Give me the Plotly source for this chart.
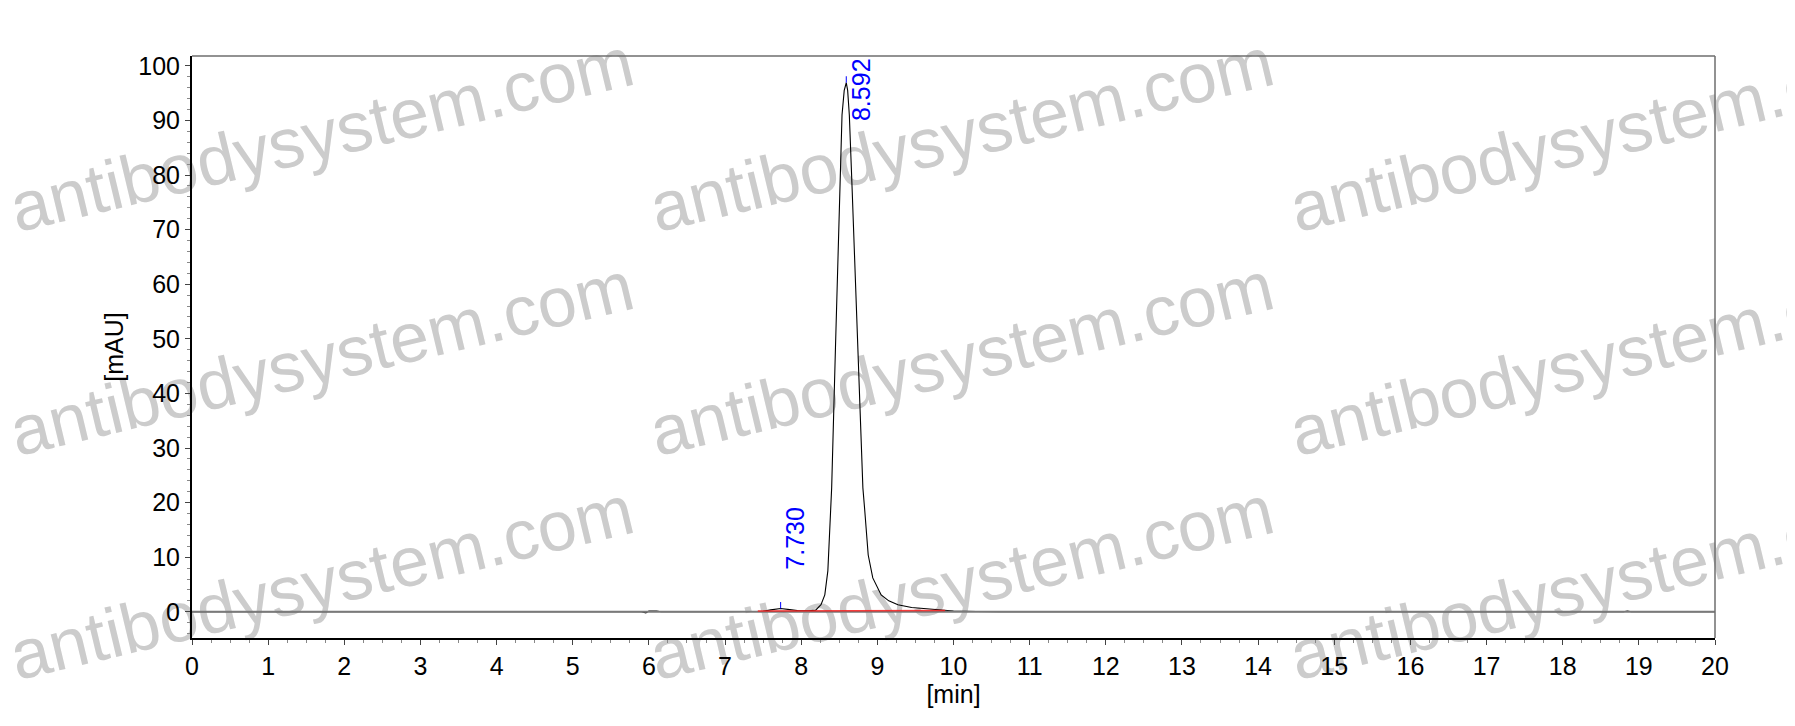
"""
SEC-HPLC chromatogram - main peak at 8.592 min with a small pre-peak at 7.730 min
"""

import plotly.graph_objects as go

# Signal trace (time in min, absorbance in mAU)
time_min = [0.0, 3.0, 5.9, 5.96, 6.0, 6.1, 6.16, 7.0, 7.43, 7.5, 7.6, 7.73, 7.85,
            7.95, 8.1, 8.19, 8.26, 8.31, 8.35, 8.386, 8.40, 8.45, 8.51, 8.536,
            8.565, 8.592, 8.61, 8.632, 8.67, 8.746, 8.81, 8.832, 8.88, 8.94,
            9.05, 9.15, 9.27, 9.45, 9.66, 9.89, 10.0, 10.3, 10.58, 10.62, 12.0,
            15.0, 18.8, 18.85, 18.9, 20.0]
signal_mau = [0.0, 0.0, 0.0, -0.2, 0.15, 0.15, 0.0, 0.0, 0.0, 0.1, 0.35, 0.6, 0.4,
              0.25, 0.2, 0.3, 1.3, 3.1, 7.5, 19.0, 22.7, 48.4, 76.0, 91.0,
              95.5, 96.9, 95.5, 91.0, 77.0, 48.4, 22.7, 19.0, 10.4, 6.2,
              3.1, 2.0, 1.3, 0.8, 0.5, 0.3, 0.15, 0.05, -0.1, 0.0, 0.0,
              0.0, 0.0, 0.15, 0.0, 0.0]

# Integration baseline (red)
base_time = [7.43, 8.18, 9.89]
base_mau = [0.15, 0.2, 0.25]

# Labelled peaks
peak_times = [7.730, 8.592]
peak_heights = [0.6, 96.9]
peak_labels = ['7.730', '8.592']

x_range = [0, 20]
y_range = [-4.8, 101.8]
x_ticks = list(range(0, 21))
y_ticks = list(range(0, 101, 10))

FONT = 'Liberation Sans, Arial, sans-serif'

# plot area in pixels (used for the paper-anchored watermark)
PLOT_L, PLOT_R, PLOT_T, PLOT_B = 184, 1707, 48, 630


def px_to_paper(px, py):
    return ((px - PLOT_L) / (PLOT_R - PLOT_L), (PLOT_B - py) / (PLOT_B - PLOT_T))


fig = go.Figure()

fig.add_trace(go.Scatter(
    x=time_min, y=signal_mau, mode='lines',
    line=dict(color='#000000', width=1.1),
    name='Signal', showlegend=False
))

# zero line drawn over the flat part of the signal, like the instrument software
fig.add_trace(go.Scatter(
    x=x_range, y=[0, 0], mode='lines',
    line=dict(color='#7a7a7a', width=2),
    hoverinfo='skip', showlegend=False
))

fig.add_trace(go.Scatter(
    x=base_time, y=base_mau, mode='lines',
    line=dict(color='rgba(255,20,20,0.8)', width=1.6),
    hoverinfo='skip', showlegend=False
))

# peak apex ticks and labels
for t, h in zip(peak_times, peak_heights):
    fig.add_annotation(x=t, y=h, text='', showarrow=True, arrowhead=0,
                       arrowwidth=1, arrowcolor='#0000ff', ax=0, ay=-8)

fig.add_annotation(x=peak_times[0], y=peak_heights[0], text=peak_labels[0],
                   textangle=-90, showarrow=False, xanchor='left', yanchor='bottom',
                   yshift=37, xshift=-2, font=dict(family=FONT, size=25, color='#0000ff'))
fig.add_annotation(x=peak_times[1], y=peak_heights[1], text=peak_labels[1],
                   textangle=-90, showarrow=False, xanchor='left', yanchor='middle',
                   yshift=-7, xshift=-2, font=dict(family=FONT, size=25, color='#0000ff'))

# watermark, underneath everything
for cy in (120, 344, 568):
    for cx in (312, 952, 1592):
        px, py = px_to_paper(cx, cy)
        fig.add_shape(
            type='rect', xref='paper', yref='paper',
            x0=px - 0.001, x1=px + 0.001, y0=py - 0.001, y1=py + 0.001,
            line=dict(width=0), fillcolor='rgba(0,0,0,0)', layer='below',
            label=dict(text='antibodysystem.com', textangle=-13.5,
                       textposition='middle center',
                       font=dict(family=FONT, size=70, color='#cccccc'))
        )

# gray frame on top and right
fig.add_shape(type='line', xref='paper', yref='paper', x0=0, x1=1, y0=1, y1=1,
              line=dict(color='#6e6e6e', width=1.5))
fig.add_shape(type='line', xref='paper', yref='paper', x0=1, x1=1, y0=0, y1=1,
              line=dict(color='#6e6e6e', width=1.5))

fig.update_layout(
    width=1795, height=726,
    margin=dict(l=PLOT_L, r=1795 - PLOT_R, t=PLOT_T, b=726 - PLOT_B, autoexpand=False),
    paper_bgcolor='white',
    plot_bgcolor='rgba(0,0,0,0)',
    font=dict(family=FONT, size=25, color='black'),
    showlegend=False
)

fig.update_xaxes(
    range=x_range, tickvals=x_ticks, ticks='outside', ticklen=5, tickwidth=1,
    tickcolor='#444', showgrid=False, zeroline=False,
    showline=True, linecolor='black', linewidth=2,
    minor=dict(dtick=0.25, ticks='outside', ticklen=3, tickcolor='#888', showgrid=False),
    title=dict(text='[min]', font=dict(size=25), standoff=4),
    tickfont=dict(size=25)
)
fig.update_yaxes(
    range=y_range, tickvals=y_ticks, ticks='outside', ticklen=5, tickwidth=1,
    tickcolor='#444', showgrid=False, zeroline=False,
    showline=True, linecolor='black', linewidth=2,
    minor=dict(dtick=2, ticks='outside', ticklen=3, tickcolor='#888', showgrid=False),
    title=dict(text='[mAU]', font=dict(size=25), standoff=8),
    tickfont=dict(size=25)
)

fig.write_html('out.html')
